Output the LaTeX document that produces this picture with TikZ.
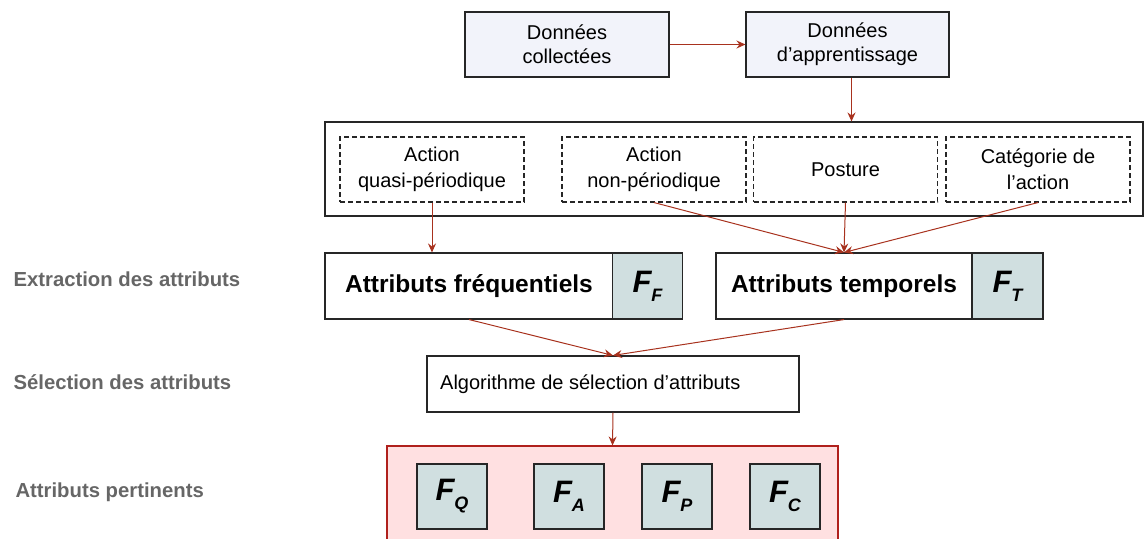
\documentclass[tikz,border=0pt]{standalone}
\usepackage{fontspec}
\setmainfont{Liberation Sans}
\usetikzlibrary{arrows.meta}
\definecolor{arrowred}{HTML}{A8321E}
\definecolor{topfill}{HTML}{F2F3FA}
\definecolor{ffill}{HTML}{D0DFE0}
\definecolor{pinkfill}{HTML}{FFE0E1}
\definecolor{pinkdraw}{HTML}{B0201C}
\definecolor{labelgray}{HTML}{666666}
\newcommand{\Fsub}[1]{{\fontsize{31}{32}\selectfont\bfseries\itshape F\raisebox{-9pt}{\fontsize{18}{18}\selectfont #1}}}
\begin{document}
\begin{tikzpicture}[x=1pt,y=-1pt,
  box/.style={draw=black!85, line width=1.1pt, inner sep=0pt, align=center,
    font=\fontsize{20}{24}\selectfont},
  dbox/.style={box, dashed, dash pattern=on 5pt off 3pt, minimum width=184, minimum height=65,
    font=\fontsize{20}{26}\selectfont},
  fbox/.style={box, fill=ffill, minimum width=70, minimum height=65},
  conn/.style={draw=arrowred, line width=1pt, -{Stealth[length=9pt,width=8pt,inset=3pt]}},
  sidelabel/.style={anchor=west, text=labelgray, font=\fontsize{20.3}{22}\selectfont\bfseries}
]
\useasboundingbox (0,0) rectangle (1145,538);

% top boxes
\node[box, fill=topfill, minimum width=204, minimum height=65] (dc) at (567,44.5) {Données\\collectées};
\node[box, fill=topfill, minimum width=203, minimum height=65] (da) at (847.5,44.5) {Données\\d’apprentissage};

% outer container
\node[box, minimum width=818, minimum height=94] (outer) at (734,169) {};
\node[dbox] (q) at (432,169.5) {Action\\quasi-périodique};
\node[dbox] (n) at (654,169.5) {Action\\non-périodique};
\node[dbox] (p) at (845.5,169.5) {Posture};
\node[dbox] (c) at (1038,169.5) {Catégorie de\\l’action};

% attribute boxes
\node[box, minimum width=288, minimum height=66, font=\fontsize{24.5}{28}\selectfont\bfseries] (af) at (469,286) {Attributs fréquentiels};
\node[fbox, minimum height=66] (ff) at (647.5,286) {\Fsub{F}};
\node[box, minimum width=256, minimum height=66, font=\fontsize{24.5}{28}\selectfont\bfseries] (at) at (844,286) {Attributs temporels};
\node[fbox, minimum width=71, minimum height=66] (ft) at (1007.5,286) {\Fsub{T}};

% selection
\node[box, minimum width=372, minimum height=56] (algo) at (613,384) {};
\node[anchor=west, inner sep=0pt, font=\fontsize{20}{24}\selectfont] (algot) at (440,384) {Algorithme de sélection d’attributs};

% pertinent
\node[draw=pinkdraw, fill=pinkfill, line width=1.1pt, minimum width=451, minimum height=114, inner sep=0pt] (pert) at (612.5,503) {};
\node[fbox] (fq) at (452,496.5) {\Fsub{Q}};
\node[fbox] (fa) at (569,496.5) {\Fsub{A}};
\node[fbox] (fp) at (677,496.5) {\Fsub{P}};
\node[fbox] (fc) at (785,496.5) {\Fsub{C}};

% side labels
\node[sidelabel] (l1) at (10,279) {Extraction des attributs};
\node[sidelabel] (l2) at (10,382) {Sélection des attributs};
\node[sidelabel] (l3) at (12,492) {Attributs pertinents};

% connectors
\draw[conn] (dc.east) -- (da.west);
\draw[conn] ([xshift=4pt]da.south) -- ([xshift=4pt]da.south |- outer.north);
\draw[conn] (q.south) -- (q.south |- af.north);
\draw[conn] (n.south) -- (at.north);
\draw[conn] (p.south) -- (at.north);
\draw[conn] (c.south) -- (at.north);
\draw[conn] (af.south) -- (algo.north);
\draw[conn] (at.south) -- (algo.north);
\draw[conn] (algo.south) -- (pert.north);
\end{tikzpicture}
\end{document}
